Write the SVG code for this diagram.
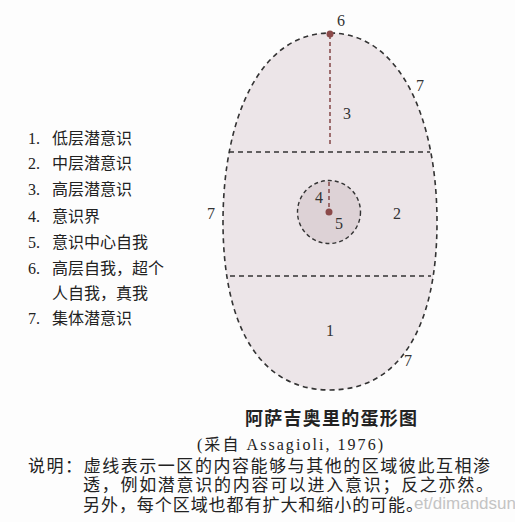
<svg xmlns="http://www.w3.org/2000/svg" width="515" height="522" viewBox="0 0 515 522">
<style>
.t{font-family:"Liberation Serif","Noto Sans CJK SC",serif;fill:#222;}
.n{font-family:"Liberation Serif",serif;font-size:16px;fill:#333;}
.d{fill:none;stroke:#333;stroke-width:1.6;stroke-dasharray:5,4;}
.v{fill:none;stroke:#8a5050;stroke-width:1.6;stroke-dasharray:4,3;}
</style>
<rect width="515" height="522" fill="#fdfdfd"/>
<g id="egg">
<path d="M330,33 C400,33 437,118 437,222 C437,330 398,390 330,390 C262,390 223,330 223,222 C223,118 260,33 330,33 Z" fill="#ece5e8"/>
<path class="d" d="M330,33 C400,33 437,118 437,222 C437,330 398,390 330,390 C262,390 223,330 223,222 C223,118 260,33 330,33 Z"/>
</g>
<g id="lines">
<line class="d" x1="229" y1="152" x2="430" y2="152"/>
<line class="d" x1="230" y1="276" x2="431" y2="276"/>
</g>
<g id="circle">
<circle cx="329" cy="212" r="31.5" fill="#ddd2d6" stroke="#333" stroke-width="1.4" stroke-dasharray="4,3"/>
</g>
<g id="connectors">
<line class="v" x1="330" y1="35" x2="330" y2="146"/>
<line class="v" x1="329" y1="182" x2="329" y2="210"/>
</g>
<g id="dots">
<circle cx="330" cy="34" r="3.5" fill="#8b4a4a"/>
<circle cx="329" cy="212" r="3.5" fill="#8b4a4a"/>
</g>
<g id="numbers">
<text class="n" x="341" y="26" text-anchor="middle">6</text>
<text class="n" x="420" y="91" text-anchor="middle">7</text>
<text class="n" x="347" y="119" text-anchor="middle">3</text>
<text class="n" x="319" y="203" text-anchor="middle">4</text>
<text class="n" x="339" y="229" text-anchor="middle">5</text>
<text class="n" x="397" y="219" text-anchor="middle">2</text>
<text class="n" x="211" y="219" text-anchor="middle">7</text>
<text class="n" x="330" y="336" text-anchor="middle">1</text>
<text class="n" x="408" y="366" text-anchor="middle">7</text>
</g>
<g id="legend" class="t" font-size="16">
<text x="28" y="144">1. <tspan x="52">低层潜意识</tspan></text>
<text x="28" y="169">2. <tspan x="52">中层潜意识</tspan></text>
<text x="28" y="195">3. <tspan x="52">高层潜意识</tspan></text>
<text x="28" y="222">4. <tspan x="52">意识界</tspan></text>
<text x="28" y="248">5. <tspan x="52">意识中心自我</tspan></text>
<text x="28" y="274">6. <tspan x="52">高层自我，超个</tspan></text>
<text x="52" y="299">人自我，真我</text>
<text x="28" y="324">7. <tspan x="52">集体潜意识</tspan></text>
</g>
<g id="caption" class="t">
<text x="245" y="425" font-size="18" font-weight="bold" textLength="172">阿萨吉奥里的蛋形图</text>
<text x="197" y="450" font-size="16" textLength="186">(采自 Assagioli, 1976)</text>
<text x="28" y="472" font-size="17" textLength="462">说明：虚线表示一区的内容能够与其他的区域彼此互相渗</text>
<text x="83" y="491" font-size="17" textLength="410">透，例如潜意识的内容可以进入意识；反之亦然。</text>
<text x="83" y="511" font-size="17" textLength="340">另外，每个区域也都有扩大和缩小的可能。</text>
</g>
<text x="516" y="509" font-family="Liberation Sans,sans-serif" font-size="17" fill="#c4c4c4" text-anchor="end">et/dimandsun</text>
</svg>
